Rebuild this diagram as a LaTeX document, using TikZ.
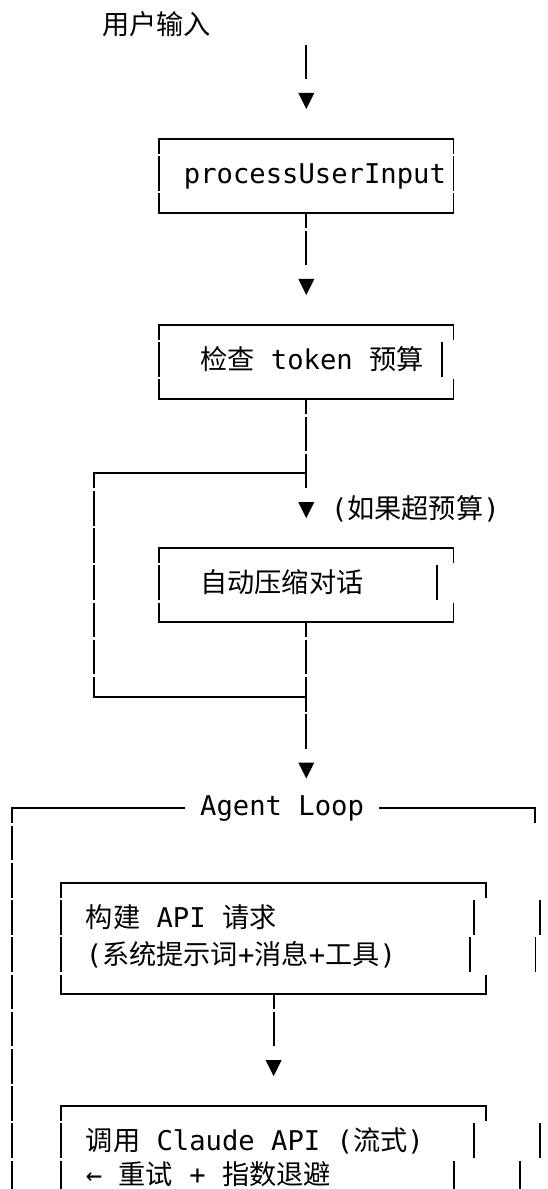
\documentclass[tikz,border=0pt]{standalone}
\usepackage{fontspec}
\newfontfamily\mono{DejaVu Sans Mono}
\newfontfamily\cjk{Noto Sans CJK SC}
\newcommand{\C}[1]{{\cjk #1}}
\newcommand{\ry}[1]{27+37.2*#1}
\tikzset{
  hline/.style={line width=1.9pt, line cap=rect},
  vline/.style={line width=1.9pt, dash pattern=on 34.7pt off 2.5pt, dash phase=19.7pt},
  vfree/.style={line width=1.9pt, dash pattern=on 34.7pt off 2.5pt},
  lbl/.style={anchor=base west, inner sep=0pt, text=black, font=\mono\fontsize{27.2}{37.2}\selectfont},
  downtri/.pic={\fill (-8,-8.5) -- (8,-8.5) -- (0,7.5) -- cycle;}
}
\newcommand{\mkH}[3]{\draw[hline] (#1,\ry{#3}) -- (#2,\ry{#3});}
\newcommand{\mkV}[3]{\draw[vline] (#1,\ry{#2}) -- (#1,\ry{#3});}
\newcommand{\mkS}[2]{\draw[vfree] (#1,\ry{#2}-19.7) -- (#1,\ry{#2}+15);}
\newcommand{\mkTR}[2]{\draw[vline] (#1,\ry{#2}) -- (#1,\ry{#2}+15);}
\newcommand{\mkBR}[2]{\draw[vfree] (#1,\ry{#2}-19.7) -- (#1,\ry{#2});}
\begin{document}
\begin{tikzpicture}[x=1pt,y=-1pt]
\useasboundingbox (0,0) rectangle (548,1189);
\clip (0,0) rectangle (548,1189);
\fill[white] (0,0) rectangle (548,1189);

% ---- input ----
\node[lbl] (input) at (101.9,\ry{0}+7.5) {\C{用户输入}};
\coordinate (c1s) at (306.3,\ry{1}-19.7);
\coordinate (c1e) at (306.3,\ry{1}+15);
\draw[vfree] (c1s) -- (c1e);
\coordinate (a1) at (306.3,\ry{2});
\pic at (a1) {downtri};

% ---- processUserInput ----
\mkH{159.15}{453.45}{3}
\mkH{159.15}{453.45}{5}
\mkV{159.15}{3}{5}
\mkV{453.45}{3}{5}
\node[lbl] (pui) at (183.7,\ry{4}+7.5) {processUserInput};
\coordinate (j5) at (306.3,\ry{5});
\coordinate (c6e) at (306.3,\ry{6}+15);
\draw[vline] (j5) -- (c6e);
\coordinate (a2) at (306.3,\ry{7});
\pic at (a2) {downtri};

% ---- token budget ----
\mkH{159.15}{453.45}{8}
\mkH{159.15}{453.45}{10}
\mkV{159.15}{8}{10}
\mkTR{453.45}{8}
\mkBR{453.45}{10}
\mkS{441.7}{9}
\node[lbl] (budget) at (200,\ry{9}+7.5) {\C{检查} token \C{预算}};
\coordinate (j10) at (306.3,\ry{10});
\coordinate (c12e) at (306.3,\ry{12}+15);
\draw[vline] (j10) -- (c12e);

% ---- bypass branch ----
\coordinate (br1) at (306.3,\ry{12});
\coordinate (bl1) at (93.75,\ry{12});
\coordinate (bl2) at (93.75,\ry{18});
\coordinate (br2) at (306.3,\ry{18});
\draw[hline] (br1) -- (bl1);
\draw[vline] (bl1) -- (bl2);
\draw[hline] (bl2) -- (br2);
\coordinate (a3) at (306.3,\ry{13});
\pic at (a3) {downtri};
\node[lbl] (cond) at (330.8,\ry{13}+7.5) {(\C{如果超预算})};

% ---- compact ----
\mkH{159.15}{453.45}{14}
\mkH{159.15}{453.45}{16}
\mkV{159.15}{14}{16}
\mkTR{453.45}{14}
\mkBR{453.45}{16}
\mkS{437.3}{15}
\node[lbl] (compact) at (200,\ry{15}+7.5) {\C{自动压缩对话}};
\coordinate (j16) at (306.3,\ry{16});
\coordinate (c19e) at (306.3,\ry{19}+15);
\draw[vline] (j16) -- (c19e);
\coordinate (a4) at (306.3,\ry{20});
\pic at (a4) {downtri};

% ---- Agent Loop frame ----
\node[lbl] (loop) at (200,\ry{21}+7.5) {Agent Loop};
\mkH{12}{183.7}{21}
\mkH{379.9}{535.2}{21}
\mkV{12}{21}{33}
\mkTR{535.2}{21}
\mkS{540}{24}
\mkS{535.5}{25}
\mkS{540}{30}
\mkS{519.7}{31}

% ---- build request ----
\mkH{61.05}{486.15}{23}
\mkH{61.05}{486.15}{26}
\mkV{61.05}{23}{26}
\mkTR{486.15}{23}
\mkBR{486.15}{26}
\mkS{474}{24}
\mkS{470}{25}
\node[lbl] (build1) at (85.6,\ry{24}+7.5) {\C{构建} API \C{请求}};
\node[lbl] (build2) at (85.6,\ry{25}+7.5) {(\C{系统提示词}+\C{消息}+\C{工具})};
\coordinate (j26) at (273.6,\ry{26});
\coordinate (c27e) at (273.6,\ry{27}+15);
\draw[vline] (j26) -- (c27e);
\coordinate (a5) at (273.6,\ry{28});
\pic at (a5) {downtri};

% ---- call Claude ----
\mkH{61.05}{486.15}{29}
\mkV{61.05}{29}{33}
\mkTR{486.15}{29}
\mkS{474}{30}
\mkS{454}{31}
\node[lbl] (call1) at (85.6,\ry{30}+7.5) {\C{调用} Claude API (\C{流式})};
\node[lbl] (call2) at (85.6,\ry{31}+4) {← \C{重试} + \C{指数退避}};
\end{tikzpicture}
\end{document}
